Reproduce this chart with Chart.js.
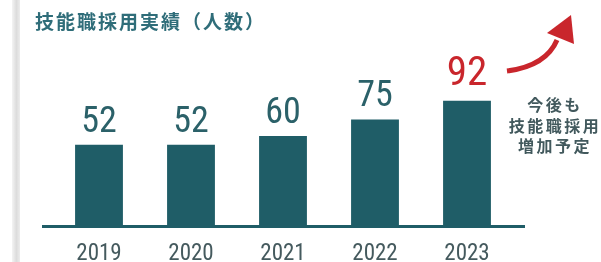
<!DOCTYPE html>
<html lang="ja">
<head>
    <meta charset="UTF-8">
    <title>技能職採用実績</title>
    <script src="https://cdn.jsdelivr.net/npm/chart.js"></script>
    <style>
        body {
            margin: 0;
            background: #fff;
        }
        .wrap {
            position: relative;
            width: 601px;
            height: 262px;
            overflow: hidden;
        }
        .edge {
            position: absolute;
            left: 12px;
            top: 0;
            width: 8px;
            height: 262px;
            background: linear-gradient(to right, #f4f4f4, #dcdcdc 55%, #ececec);
        }
        .title {
            position: absolute;
            left: 35px;
            top: 10px;
            margin: 0;
            font-family: "Noto Sans CJK JP", sans-serif;
            font-size: 19px;
            font-weight: bold;
            letter-spacing: 2px;
            line-height: 1.2;
            color: #2f6d79;
        }
        .note {
            position: absolute;
            left: 503px;
            top: 94px;
            width: 104px;
            text-align: center;
            font-family: "Noto Sans CJK JP", sans-serif;
            font-size: 16px;
            font-weight: bold;
            letter-spacing: 2.5px;
            line-height: 20.5px;
            color: #42595d;
        }
        canvas, svg {
            position: absolute;
            left: 0;
            top: 0;
        }
    </style>
</head>
<body>
<div class="wrap">
    <div class="edge"></div>
    <canvas id="chart" width="601" height="262"></canvas>
    <svg width="601" height="262">
        <path d="M 507 71 Q 546 66 557 40" fill="none" stroke="#c9262c" stroke-width="5"/>
        <polygon points="547,33 571,15 574,44" fill="#c9262c"/>
    </svg>
    <h1 class="title">技能職採用実績（人数）</h1>
    <div class="note">今後も<br>技能職採用<br>増加予定</div>
</div>

<script>
    // 年度と採用人数
    const years = ['2019', '2020', '2021', '2022', '2023'];
    const hires = [52, 52, 60, 75, 92];
    const highlightYear = '2023';

    // 縦軸の範囲（元の図は0起点ではない）
    const axisMin = -23;
    const axisMax = 100;

    const teal = '#1f5d67';
    const numFont = 'Roboto, "DejaVu Sans Condensed", sans-serif';

    // 数値ラベルと下の基準線
    const labelPlugin = {
        id: 'labels',
        afterDatasetsDraw(chart) {
            const ctx = chart.ctx;
            const area = chart.chartArea;
            const bars = chart.getDatasetMeta(0).data;

            ctx.save();
            ctx.strokeStyle = teal;
            ctx.lineWidth = 3;
            ctx.beginPath();
            ctx.moveTo(area.left - 11, area.bottom - 0.5);
            ctx.lineTo(area.right + 12, area.bottom - 0.5);
            ctx.stroke();

            ctx.textAlign = 'center';
            ctx.textBaseline = 'alphabetic';
            bars.forEach((bar, i) => {
                const hot = years[i] === highlightYear;
                ctx.font = 'condensed ' + (hot ? '41px ' : '36px ') + numFont;
                ctx.fillStyle = hot ? '#c9262c' : '#2b6169';
                ctx.fillText(String(hires[i]), bar.x, bar.y - (hot ? 16 : 13));
            });
            ctx.restore();
        }
    };

    new Chart(document.getElementById('chart'), {
        type: 'bar',
        data: {
            labels: years,
            datasets: [{
                data: hires,
                base: axisMin,
                backgroundColor: teal,
                barPercentage: 0.52,
                categoryPercentage: 1
            }]
        },
        options: {
            responsive: false,
            animation: false,
            layout: {
                padding: { left: 53, right: 88, top: 92, bottom: 0 }
            },
            scales: {
                x: {
                    grid: { display: false, drawTicks: false },
                    border: { display: false },
                    ticks: {
                        color: '#455a5e',
                        padding: 16,
                        // weight欄に幅指定を入れて細身の数字にする
                        font: { family: numFont, size: 23, weight: 'condensed', lineHeight: 1 }
                    },
                    afterFit(scale) {
                        scale.height = 35;
                    }
                },
                y: {
                    display: false,
                    min: axisMin,
                    max: axisMax
                }
            },
            plugins: {
                legend: { display: false },
                tooltip: { enabled: false }
            }
        },
        plugins: [labelPlugin]
    });
</script>
</body>
</html>
